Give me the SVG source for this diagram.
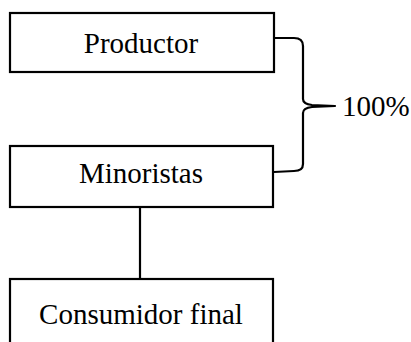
<svg xmlns="http://www.w3.org/2000/svg" width="411" height="342" viewBox="0 0 411 342">
<style>
.box{fill:#fff;stroke:#000;stroke-width:2.2}
.lbl{font-family:"Liberation Serif","Times New Roman",serif;font-size:29px;fill:#000;text-anchor:middle}
.con{fill:none;stroke:#000;stroke-width:2.2;stroke-linejoin:round}
</style>
<rect width="411" height="342" fill="#fff"/>
<g id="connectors">
<line class="con" x1="140" y1="207" x2="140" y2="279"/>
<path class="con" d="M274,38 L294,38 Q303,38 303,46 L303,99 Q303,104 312,105 L335,106 L312,107 Q303,108 303,113 L303,164 Q303,171 294,171 L274,172"/>
<text class="lbl" x="342" y="116" style="text-anchor:start">100%</text>
</g>
<g id="productor">
<rect class="box" x="10" y="13" width="264" height="59"/>
<text class="lbl" x="141" y="53">Productor</text>
</g>
<g id="minoristas">
<rect class="box" x="10" y="146" width="263" height="61"/>
<text class="lbl" x="141" y="183">Minoristas</text>
</g>
<g id="consumidor">
<rect class="box" x="10" y="279" width="263" height="70"/>
<text class="lbl" x="141" y="324">Consumidor final</text>
</g>
</svg>
